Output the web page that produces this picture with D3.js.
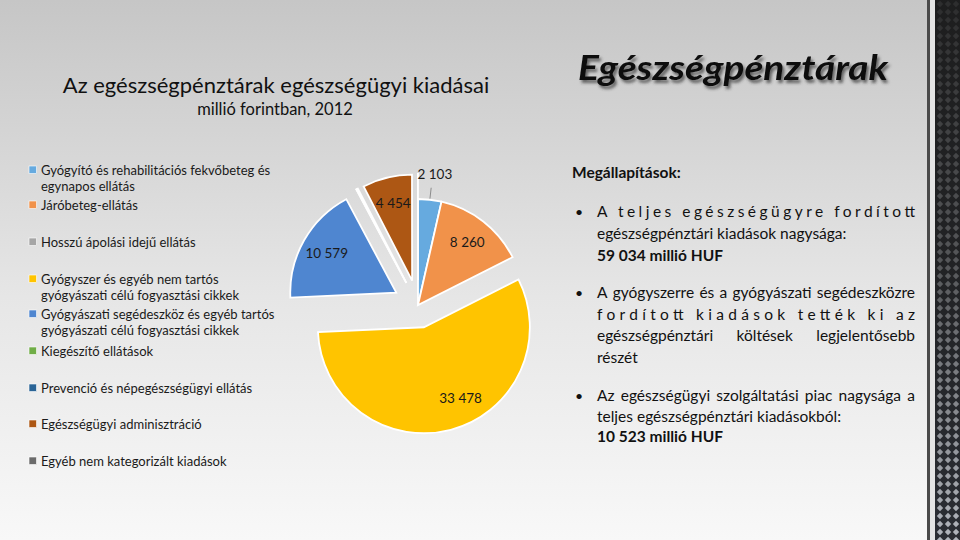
<!DOCTYPE html>
<html><head><meta charset="utf-8">
<script src="https://cdn.jsdelivr.net/npm/d3@7/dist/d3.min.js"></script>
<style>html,body{margin:0;padding:0;background:#fff}svg{display:block}</style>
</head><body>
<script>
// ---- DATA ----
const categories = [
  "Gyógyító és rehabilitációs fekvőbeteg és egynapos ellátás",
  "Járóbeteg-ellátás",
  "Hosszú ápolási idejű ellátás",
  "Gyógyszer és egyéb nem tartós gyógyászati célú fogyasztási cikkek",
  "Gyógyászati segédeszköz és egyéb tartós gyógyászati célú fogyasztási cikkek",
  "Kiegészítő ellátások",
  "Prevenció és népegészségügyi ellátás",
  "Egészségügyi adminisztráció",
  "Egyéb nem kategorizált kiadások"
];
const values = [2103, 8260, 0, 33478, 10579, 10, 140, 4454, 10];
const legendLines = [
  ["Gyógyító és rehabilitációs fekvőbeteg és", "egynapos ellátás"],
  ["Járóbeteg-ellátás"],
  ["Hosszú ápolási idejű ellátás"],
  ["Gyógyszer és egyéb nem tartós", "gyógyászati célú fogyasztási cikkek"],
  ["Gyógyászati segédeszköz és egyéb tartós", "gyógyászati célú fogyasztási cikkek"],
  ["Kiegészítő ellátások"],
  ["Prevenció és népegészségügyi ellátás"],
  ["Egészségügyi adminisztráció"],
  ["Egyéb nem kategorizált kiadások"]
];
const titleText = "Az egészségpénztárak egészségügyi kiadásai";
const subtitleText = "millió forintban, 2012";
const headerText = "Egészségpénztárak";
const findingsTitle = "Megállapítások:";
// each line: text, mode ('letter' | 'word' | 'left'), bold
const findings = [
  [["A teljes egészségügyre fordított", "letter", false],
   ["egészségpénztári kiadások nagysága:", "left", false],
   ["59 034 millió HUF", "left", true]],
  [["A gyógyszerre és a gyógyászati segédeszközre", "word", false],
   ["fordított kiadások tették ki az", "letter", false],
   ["egészségpénztári költések legjelentősebb", "word", false],
   ["részét", "left", false]],
  [["Az egészségügyi szolgáltatási piac nagysága a", "word", false],
   ["teljes egészségpénztári kiadásokból:", "left", false],
   ["10 523 millió HUF", "left", true]]
];

// ---- STYLE ----
const colors = ["#66aadf", "#f1924a", "#a5a5a5", "#ffc400", "#4f86d0", "#70ad47", "#2a6496", "#ad5714", "#6b6b6b"];
const explode = [0, 0, 0, 23, 25, 25, 25, 25, 25];
const labelShift = [0, 0, 0, -0.22, 0, 0, 0, 0, 0]; // radians, label placement tweak
const FONT = "Lato, 'Open Sans', sans-serif";

const W = 960, H = 540;
const svg = d3.select("body").append("svg").attr("width", W).attr("height", H)
  .style("font-family", FONT);
const defs = svg.append("defs");

const bg = defs.append("linearGradient").attr("id", "bg").attr("x1", 0).attr("y1", 0).attr("x2", 0).attr("y2", 1);
bg.append("stop").attr("offset", "0%").attr("stop-color", "#c6c6c6");
bg.append("stop").attr("offset", "55%").attr("stop-color", "#e6e6e6");
bg.append("stop").attr("offset", "100%").attr("stop-color", "#f8f8f8");
svg.append("rect").attr("width", W).attr("height", H).attr("fill", "url(#bg)");

// right decorative strip
const pat = defs.append("pattern").attr("id", "carbon").attr("patternUnits", "userSpaceOnUse")
  .attr("width", 8).attr("height", 8);
pat.append("rect").attr("width", 8).attr("height", 8).attr("fill", "#2c2f36");
pat.append("path").attr("d", "M4,0.8 L7.2,4 L4,7.2 L0.8,4 Z").attr("fill", "#c3c7cf");
const sg = defs.append("linearGradient").attr("id", "stripfade").attr("x1", 0).attr("y1", 0).attr("x2", 0).attr("y2", 1);
sg.append("stop").attr("offset", "0%").attr("stop-color", "#1c1c1c").attr("stop-opacity", 0.9);
sg.append("stop").attr("offset", "50%").attr("stop-color", "#1c1c1c").attr("stop-opacity", 0.65);
sg.append("stop").attr("offset", "100%").attr("stop-color", "#1c1c1c").attr("stop-opacity", 0.1);
svg.append("rect").attr("x", 927).attr("y", 0).attr("width", 3).attr("height", H).attr("fill", "#4a4a4a");
svg.append("rect").attr("x", 930).attr("y", 0).attr("width", 5).attr("height", H).attr("fill", "#e4e4e4");
svg.append("rect").attr("x", 935).attr("y", 0).attr("width", 25).attr("height", H).attr("fill", "url(#carbon)");
svg.append("rect").attr("x", 935).attr("y", 0).attr("width", 25).attr("height", H).attr("fill", "url(#stripfade)");

// titles
svg.append("text").attr("x", 276).attr("y", 93).attr("text-anchor", "middle")
  .attr("font-size", 22).attr("fill", "#111").text(titleText);
svg.append("text").attr("x", 275).attr("y", 115).attr("text-anchor", "middle")
  .attr("font-size", 16.5).attr("fill", "#111").text(subtitleText);

const sh = defs.append("filter").attr("id", "shadow").attr("x", "-10%").attr("y", "-30%").attr("width", "130%").attr("height", "170%");
sh.append("feDropShadow").attr("dx", 2).attr("dy", 3).attr("stdDeviation", 1.6)
  .attr("flood-color", "#333").attr("flood-opacity", 0.7);
svg.append("text").attr("x", 578).attr("y", 80).attr("font-size", 35)
  .attr("font-weight", "bold").attr("font-style", "italic").attr("fill", "#0d0d0d")
  .attr("filter", "url(#shadow)").attr("textLength", 310).attr("lengthAdjust", "spacingAndGlyphs")
  .text(headerText);

// legend
const legendY = [170, 205, 242, 279, 314, 351, 388, 424, 461];
const lg = svg.append("g");
categories.forEach((c, i) => {
  const y = legendY[i];
  lg.append("rect").attr("x", 29).attr("y", y - 4).attr("width", 7.5).attr("height", 7.5)
    .attr("fill", colors[i]).attr("stroke", "#fff").attr("stroke-width", 0.6);
  legendLines[i].forEach((ln, j) => {
    lg.append("text").attr("x", 41).attr("y", y + j * 16).attr("dy", "0.35em")
      .attr("font-size", 13).attr("fill", "#1a1a1a").text(ln);
  });
});

// pie
const cx = 418, cy = 305, R = 106;
const pie = d3.pie().sort(null).value(d => d.v).startAngle(0).endAngle(2 * Math.PI);
const arcs = pie(values.map((v, i) => ({ v, i })));
const arc = d3.arc().innerRadius(0).outerRadius(R);
const pg = svg.append("g").attr("transform", `translate(${cx},${cy})`);
const fmt = v => d3.format(",")(v).replace(/,/g, " ");
arcs.forEach(a => {
  if (a.data.v <= 0) return;
  const i = a.data.i;
  const mid = (a.startAngle + a.endAngle) / 2;
  const ox = Math.sin(mid) * explode[i], oy = -Math.cos(mid) * explode[i];
  const g = pg.append("g").attr("transform", `translate(${ox},${oy})`);
  g.append("path").attr("d", arc(a)).attr("fill", colors[i])
    .attr("stroke", "#fff").attr("stroke-width", 1.8).attr("stroke-linejoin", "miter");
});
arcs.forEach(a => {
  const v = a.data.v, i = a.data.i;
  if (v < 1000) return;
  const mid = (a.startAngle + a.endAngle) / 2;
  const ox = Math.sin(mid) * explode[i], oy = -Math.cos(mid) * explode[i];
  const la = mid + labelShift[i];
  const s = Math.sin(la), c = -Math.cos(la);
  if (v >= 3000) {
    const rr = 80;
    pg.append("text").attr("x", ox + s * rr).attr("y", oy + c * rr)
      .attr("text-anchor", "middle").attr("dy", "0.35em")
      .attr("font-size", 13.5).attr("fill", "#1a1a1a").text(fmt(v));
  } else {
    pg.append("line").attr("x1", ox + s * (R + 1)).attr("y1", oy + c * (R + 1))
      .attr("x2", ox + s * (R + 12)).attr("y2", oy + c * (R + 12))
      .attr("stroke", "#8c8c8c").attr("stroke-width", 1);
    pg.append("text").attr("x", ox + s * (R + 18) + 3).attr("y", oy + c * (R + 18) - 8)
      .attr("text-anchor", "middle").attr("dy", "0.35em")
      .attr("font-size", 13.5).attr("fill", "#1a1a1a").text(fmt(v));
  }
});

// findings
const fx0 = 597, fx1 = 915, FS = 15.5;
svg.append("text").attr("x", 572).attr("y", 178).attr("font-size", FS)
  .attr("font-weight", "bold").attr("fill", "#111").text(findingsTitle);
const bulletY = [217, 298, 401];
const lineH = [22, 21.5, 20.5];
findings.forEach((block, b) => {
  const y0 = bulletY[b];
  svg.append("text").attr("x", 575).attr("y", y0).attr("font-size", 14).attr("fill", "#111").text("•");
  block.forEach(([t, mode, bold], k) => {
    const y = y0 + k * lineH[b];
    if (mode === "word") {
      const words = t.split(" ");
      const tmp = words.map(w => svg.append("text").attr("font-size", FS).attr("y", y)
        .attr("fill", "#111").attr("font-weight", bold ? "bold" : null).text(w));
      const widths = tmp.map(n => n.node().getComputedTextLength());
      const total = d3.sum(widths);
      const gap = (fx1 - fx0 - total) / (words.length - 1);
      let x = fx0;
      tmp.forEach((n, q) => { n.attr("x", x); x += widths[q] + gap; });
    } else {
      const n = svg.append("text").attr("x", fx0).attr("y", y).attr("font-size", FS)
        .attr("fill", "#111").attr("font-weight", bold ? "bold" : null).text(t);
      if (mode === "letter") n.attr("textLength", fx1 - fx0).attr("lengthAdjust", "spacing");
    }
  });
});
</script>
</body></html>
